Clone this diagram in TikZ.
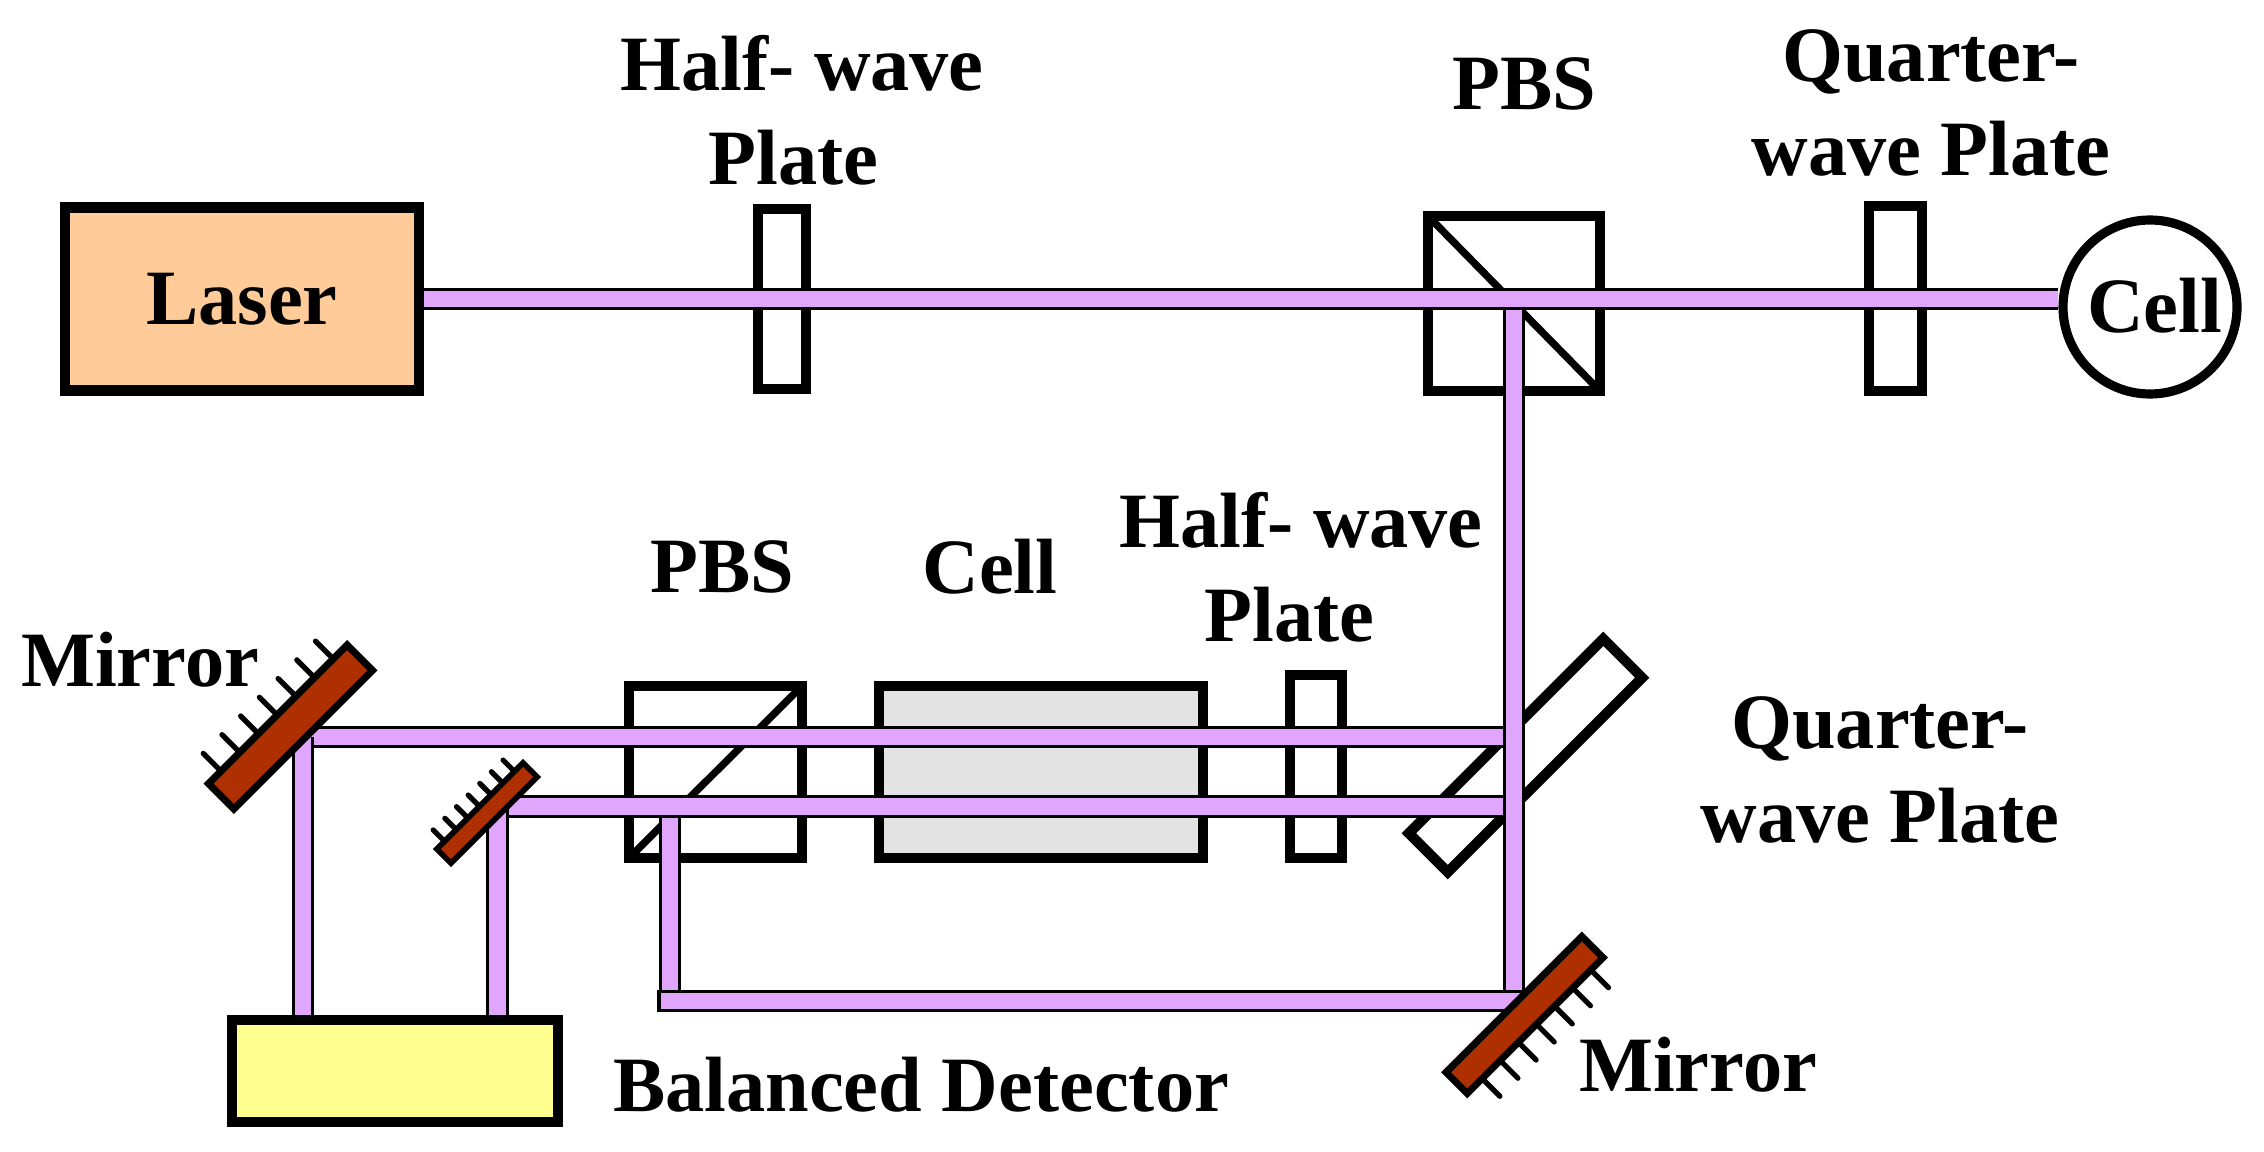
\documentclass[tikz,border=0pt]{standalone}
\usepackage{fontspec}
\setmainfont{Liberation Serif}
\usepackage{xcolor}
\usetikzlibrary{calc}
\definecolor{beamcol}{HTML}{DFA6FC}
\definecolor{lasercol}{HTML}{FFCC99}
\definecolor{mirrorcol}{HTML}{AE3000}
\definecolor{detectcol}{HTML}{FFFF8F}
\definecolor{cellcol}{HTML}{E3E3E3}

\begin{document}
\begin{tikzpicture}[
        every node/.style={font=\bfseries\fontsize{22.3}{26.7}\selectfont},
        optic/.style={rectangle, draw, line width=2.9pt, inner sep=0pt},
        mirror/.style={rectangle, draw, fill=mirrorcol, line width=2pt, inner sep=0pt, outer sep=0pt, rotate=45},
        split/.style={line width=2.1pt},
        hatch/.style={line width=1.5pt, line cap=round},
        beam/.style={draw=black, line width=.9pt, double=beamcol, double distance=.165cm},
        tag/.style={align=center, inner sep=0pt}
      ]
      \useasboundingbox (0,0) rectangle (22.64,11.51);

      \node[optic, fill=lasercol, minimum width=3.54cm, minimum height=1.83cm] (laser) at (2.42,8.52) {Laser};
      \node[optic, minimum width=.48cm, minimum height=1.80cm] (hwa) at (7.82,8.52) {};
      \node[optic, minimum width=1.72cm, minimum height=1.75cm, outer sep=0pt] (pbsa) at (15.14,8.475) {};
      \node[optic, minimum width=.53cm, minimum height=1.85cm] (qwa) at (18.955,8.525) {};
      \node[optic, circle, fill=white, line width=2.6pt, minimum size=1.74cm] (cella) at (21.50,8.44) {\kern.09cm\raisebox{.03cm}{Cell}};
      \node[optic, minimum width=1.73cm, minimum height=1.72cm, outer sep=0pt] (pbsb) at (7.155,3.79) {};
      \node[optic, fill=cellcol, minimum width=3.24cm, minimum height=1.72cm] (cellb) at (10.41,3.79) {};
      \node[optic, minimum width=.52cm, minimum height=1.83cm] (hwb) at (13.16,3.845) {};
      \node[optic, rotate=45, minimum width=2.75cm, minimum height=.55cm] (qwb) at (15.255,3.955) {};
      \node[optic, fill=detectcol, minimum width=3.26cm, minimum height=1.02cm] (detector) at (3.95,0.80) {};

      \draw[split] (pbsa.north west) -- (pbsa.south east);
      \draw[split] (pbsb.north east) -- (pbsb.south west);

      \coordinate (turna) at (3.03,4.14);
      \coordinate (turnb) at (4.975,3.445);
      \coordinate (turnc) at (15.24,1.50);
      \coordinate (turnd) at (6.59,1.50);
      \coordinate (dropd) at (6.70,3.445);

      \draw[beam] (dropd) -- (dropd |- turnd);
      \draw[beam] (turna) -- (turna -| pbsa);
      \draw[beam] (turnb) -- (turnb -| pbsa);
      \draw[beam] (turna) -- (turna |- detector.north);
      \draw[beam] (turnb) -- (turnb |- detector.north);
      \draw[beam] (laser -| pbsa) -- (pbsa |- turnc);
      \draw[beam] (laser.east) -- (laser -| cella.west);
      \draw[beam] (turnd) -- (turnc);
      \draw[line width=.9pt] ([yshift=-.114cm]turnd) -- ([yshift=.114cm]turnd);

      \node[mirror, minimum width=1.96cm, minimum height=.36cm] (mirrora) at (2.905,4.24) {};
      \node[mirror, line width=1.6pt, minimum width=1.22cm, minimum height=.20cm] (mirrorb) at (4.87,3.38) {};
      \node[mirror, minimum width=1.92cm, minimum height=.30cm] (mirrorc) at (15.245,1.36) {};
      \foreach \t in {.09,.225,.36,.495,.63,.765,.90} {
        \draw[hatch] ($(mirrora.north west)!\t!(mirrora.north east)$) -- ++(135:.25);
        \draw[hatch] ($(mirrorb.north west)!\t!(mirrorb.north east)$) -- ++(135:.16);
      }
      \foreach \t in {.11,.243,.377,.51,.643,.777,.91} {
        \draw[hatch] ($(mirrorc.south west)!\t!(mirrorc.south east)$) -- ++(-45:.25);
      }

      \node[tag] (hwalabel) at (8.02,10.41) {Half- wave\\Plate\kern.17cm};
      \node[tag] (pbsalabel) at (15.24,10.67) {PBS};
      \node[tag] (qwalabel) at (19.31,10.48) {Quarter-\\wave Plate};
      \node[tag] (pbsblabel) at (7.22,5.84) {PBS};
      \node[tag] (cellblabel) at (9.90,5.84) {Cell};
      \node[tag] (hwblabel) at (13.01,5.84) {Half- wave\\Plate\kern.23cm};
      \node[tag] (mirroralabel) at (1.40,4.91) {Mirror};
      \node[tag] (qwblabel) at (18.80,3.81) {Quarter-\\wave Plate};
      \node[tag] (mirrorclabel) at (16.98,0.86) {Mirror};
      \node[tag] (detectorlabel) at (9.21,0.66) {Balanced Detector};
    \end{tikzpicture}
\end{document}
